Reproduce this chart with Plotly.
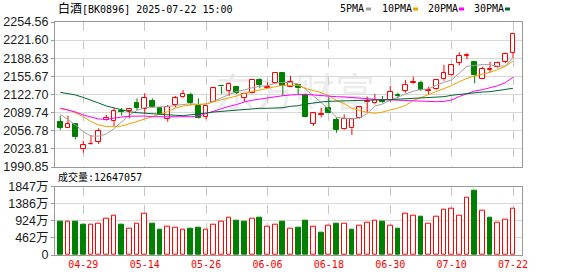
import plotly.graph_objects as go

dates = ["2025-04-24", "2025-04-25", "2025-04-28", "2025-04-29", "2025-04-30",
         "2025-05-06", "2025-05-07", "2025-05-08", "2025-05-09", "2025-05-12",
         "2025-05-13", "2025-05-14", "2025-05-15", "2025-05-16", "2025-05-19",
         "2025-05-20", "2025-05-21", "2025-05-22", "2025-05-23", "2025-05-26",
         "2025-05-27", "2025-05-28", "2025-05-29", "2025-05-30", "2025-06-03",
         "2025-06-04", "2025-06-05", "2025-06-06", "2025-06-09", "2025-06-10",
         "2025-06-11", "2025-06-12", "2025-06-13", "2025-06-16", "2025-06-17",
         "2025-06-18", "2025-06-19", "2025-06-20", "2025-06-23", "2025-06-24",
         "2025-06-25", "2025-06-26", "2025-06-27", "2025-06-30", "2025-07-01",
         "2025-07-02", "2025-07-03", "2025-07-04", "2025-07-07", "2025-07-08",
         "2025-07-09", "2025-07-10", "2025-07-11", "2025-07-14", "2025-07-15",
         "2025-07-16", "2025-07-17", "2025-07-18", "2025-07-21", "2025-07-22"]

opens = [2073.2, 2061.2, 2068.5, 2023.0, 2032.1, 2036.9, 2076.3, 2074.0, 2093.2, 2092.2,
         2106.7, 2096.9, 2110.9, 2097.6, 2078.7, 2103.6, 2117.6, 2121.8, 2101.8, 2082.3,
         2109.6, 2138.7, 2129.6, 2136.9, 2115.8, 2124.9, 2149.1, 2135.1, 2143.1, 2162.4,
         2136.9, 2140.0, 2121.8, 2069.1, 2086.0, 2098.7, 2076.3, 2059.4, 2061.2, 2079.4,
         2108.5, 2106.7, 2112.7, 2112.7, 2121.8, 2129.1, 2143.1, 2144.2, 2129.1, 2132.2,
         2150.4, 2157.6, 2180.5, 2192.7, 2181.8, 2150.4, 2168.0, 2172.2, 2182.4, 2198.7]
highs = [2084.2, 2084.2, 2070.9, 2038.7, 2049.1, 2061.2, 2085.4, 2098.7, 2098.2, 2096.5,
         2115.8, 2124.9, 2115.8, 2099.4, 2103.6, 2120.0, 2130.9, 2126.0, 2115.8, 2103.0,
         2136.9, 2140.0, 2144.2, 2138.2, 2124.9, 2150.4, 2152.2, 2144.9, 2163.5, 2163.0,
         2156.4, 2141.0, 2122.5, 2089.5, 2098.7, 2117.6, 2080.5, 2086.7, 2078.5, 2100.5,
         2118.7, 2123.6, 2120.0, 2138.2, 2126.0, 2149.1, 2155.1, 2147.8, 2136.9, 2150.4,
         2176.4, 2177.0, 2199.5, 2197.6, 2182.5, 2173.3, 2182.4, 2182.4, 2198.7, 2235.1]
lows = [2058.1, 2061.2, 2041.2, 2016.9, 2030.9, 2032.7, 2075.1, 2065.4, 2084.2, 2079.4,
        2094.5, 2088.5, 2099.1, 2085.4, 2073.2, 2099.4, 2116.0, 2103.6, 2079.1, 2077.6,
        2109.0, 2123.6, 2120.0, 2123.6, 2109.6, 2124.0, 2134.0, 2134.0, 2141.5, 2120.0,
        2136.0, 2123.6, 2081.0, 2065.4, 2081.2, 2088.5, 2053.2, 2058.0, 2049.1, 2078.5,
        2089.6, 2104.9, 2106.7, 2109.6, 2115.8, 2126.0, 2141.8, 2129.1, 2123.6, 2130.9,
        2147.8, 2156.4, 2175.8, 2186.7, 2143.1, 2150.0, 2162.4, 2170.4, 2179.5, 2188.5]
closes = [2062.3, 2068.5, 2044.9, 2030.3, 2033.2, 2056.9, 2080.0, 2092.2, 2090.9, 2095.8,
          2098.2, 2115.8, 2100.5, 2087.2, 2100.5, 2115.8, 2123.6, 2106.7, 2080.5, 2101.8,
          2134.0, 2137.3, 2141.3, 2126.0, 2123.6, 2149.1, 2140.0, 2136.9, 2162.4, 2138.2,
          2146.0, 2134.0, 2082.3, 2088.5, 2086.7, 2089.6, 2058.1, 2078.1, 2077.6, 2099.4,
          2110.9, 2112.7, 2108.5, 2127.8, 2120.0, 2140.0, 2146.0, 2130.9, 2131.3, 2149.1,
          2161.3, 2176.4, 2192.7, 2195.1, 2157.6, 2169.6, 2169.1, 2179.5, 2196.4, 2232.7]

ma5 = [2086.7, 2077.6, 2067.2, 2055.1, 2047.2, 2047.0, 2050.9, 2060.9, 2073.6, 2084.9,
       2093.6, 2099.0, 2099.6, 2099.4, 2100.5, 2103.0, 2105.2, 2106.0, 2104.5, 2105.4,
       2110.8, 2117.3, 2122.5, 2128.5, 2131.0, 2135.0, 2137.7, 2138.5, 2143.0, 2144.7,
       2144.5, 2141.7, 2132.2, 2119.8, 2107.0, 2096.0, 2081.1, 2079.5, 2078.4, 2080.0,
       2088.1, 2101.8, 2105.4, 2112.3, 2117.3, 2123.6, 2128.8, 2131.8, 2132.9, 2139.7,
       2144.9, 2149.2, 2161.8, 2174.2, 2175.4, 2177.3, 2176.7, 2174.3, 2174.4, 2189.9]
ma10 = [2097.6, 2095.1, 2089.1, 2082.3, 2073.6, 2067.2, 2064.5, 2064.1, 2065.4, 2069.1,
        2073.6, 2078.1, 2082.3, 2087.2, 2091.4, 2098.2, 2101.8, 2103.6, 2104.9, 2105.4,
        2109.6, 2112.7, 2115.8, 2120.0, 2124.9, 2128.2, 2131.4, 2134.0, 2136.9, 2139.4,
        2140.0, 2139.4, 2133.6, 2129.8, 2126.2, 2120.2, 2112.0, 2106.1, 2097.6, 2093.8,
        2090.3, 2088.6, 2090.7, 2094.7, 2098.0, 2103.1, 2111.8, 2117.1, 2122.5, 2127.4,
        2132.5, 2138.9, 2146.0, 2152.0, 2156.5, 2159.5, 2163.1, 2168.0, 2174.0, 2183.5]
ma20 = [2097.6, 2094.5, 2090.9, 2085.4, 2081.8, 2078.1, 2077.6, 2080.0, 2081.8, 2083.1,
        2083.6, 2083.6, 2082.3, 2082.3, 2081.2, 2081.8, 2082.3, 2082.3, 2083.6, 2088.1,
        2092.7, 2097.2, 2101.2, 2104.5, 2109.1, 2112.2, 2114.5, 2116.3, 2118.7, 2120.5,
        2121.8, 2122.3, 2123.1, 2121.8, 2120.5, 2120.0, 2118.7, 2118.2, 2117.6, 2116.3,
        2115.1, 2114.0, 2113.3, 2112.7, 2112.2, 2112.2, 2111.4, 2110.9, 2110.0, 2109.6,
        2110.3, 2112.7, 2119.1, 2124.5, 2129.1, 2131.4, 2134.5, 2138.7, 2144.2, 2154.0]
ma30 = [2126.7, 2124.5, 2121.8, 2117.3, 2112.7, 2107.2, 2101.8, 2098.2, 2094.5, 2091.4,
        2089.6, 2088.5, 2087.2, 2086.3, 2085.4, 2084.9, 2084.2, 2085.4, 2087.2, 2089.1,
        2090.9, 2092.2, 2092.7, 2094.0, 2095.1, 2096.3, 2097.6, 2097.6, 2098.2, 2098.7,
        2101.2, 2102.3, 2105.4, 2107.8, 2109.1, 2110.3, 2110.9, 2111.4, 2111.4, 2112.2,
        2112.2, 2112.7, 2112.7, 2113.3, 2114.0, 2114.5, 2115.1, 2115.8, 2117.3, 2118.2,
        2118.7, 2121.3, 2123.1, 2124.9, 2126.0, 2127.2, 2127.8, 2130.0, 2131.4, 2134.0]

volumes = [9060000, 8880000, 8970000, 8170000, 8080000, 8430000, 9690000, 10590000, 8170000, 7000000,
           8430000, 11130000, 8520000, 6820000, 7540000, 7270000, 6820000, 7090000, 7360000, 6820000,
           8170000, 8970000, 9960000, 9240000, 8970000, 9780000, 10050000, 7540000, 8170000, 8970000,
           7090000, 7360000, 9240000, 7540000, 6100000, 7900000, 8430000, 8430000, 6820000, 7900000,
           8610000, 9150000, 8970000, 7900000, 7090000, 11130000, 10590000, 10320000, 8430000, 10320000,
           12380000, 12650000, 10590000, 15610000, 17320000, 11930000, 10050000, 8700000, 9510000, 12647057]
# 1 = volume up (red, hollow), 0 = volume down (green)
vol_up = [0, 1, 0, 0, 1, 1, 1, 1, 0, 1,
          1, 1, 0, 0, 1, 1, 1, 0, 0, 1,
          1, 1, 1, 0, 0, 1, 0, 1, 1, 0,
          1, 0, 0, 1, 0, 1, 0, 1, 0, 1,
          1, 1, 0, 1, 0, 1, 1, 0, 1, 1,
          1, 1, 1, 1, 0, 1, 0, 1, 1, 1]

price_ticks = [1990.85, 2023.81, 2056.78, 2089.74, 2122.70, 2155.67, 2188.63, 2221.60, 2254.56]
vol_ticks = [0, 4620000, 9240000, 13860000, 18470000]
vol_tick_text = ["0", "462万", "924万", "1386万", "1847万"]
label_dates = ["2025-04-29", "2025-05-14", "2025-05-26", "2025-06-06",
               "2025-06-18", "2025-06-30", "2025-07-10", "2025-07-22"]
title_name = "白酒"
title_rest = "[BK0896] 2025-07-22 15:00"
vol_title = "成交量:12647057"
ma_names = ["5PMA", "10PMA", "20PMA", "30PMA"]

# ---- styling / geometry ----
W, H = 578, 276
L, R, T, B = 55, 522, 22, 255
RED, GREEN = "#ff0000", "#008000"
MA_COLORS = ["#a0a0a0", "#f0a000", "#ff00ff", "#006633"]
MONO = "DejaVu Sans Mono, Noto Sans CJK SC"
SANS = "Liberation Sans, Arial, Noto Sans CJK SC"


def px(x):
    return (x - L) / (R - L)


def py(y):
    return (B - y) / (B - T)


# trading-day slots on the x axis
xi = list(range(len(dates)))
tick_pos = [dates.index(d) for d in label_dates]

fig = go.Figure()

# wicks (upper and lower parts, so hollow bodies stay clean)
for up_flag, col in [(True, RED), (False, GREEN)]:
    xs, ys = [], []
    for k, o, h, l, c in zip(xi, opens, highs, lows, closes):
        if (c >= o) != up_flag:
            continue
        top, bot = max(o, c), min(o, c)
        xs += [k, k, None, k, k, None]
        ys += [top, h, None, bot, l, None]
    fig.add_trace(go.Scatter(x=xs, y=ys, mode="lines", line=dict(color=col, width=1),
                             hoverinfo="skip", showlegend=False, xaxis="x", yaxis="y"))

# bodies
up = [c >= o for o, c in zip(opens, closes)]
fig.add_trace(go.Bar(
    x=xi,
    base=[min(o, c) for o, c in zip(opens, closes)],
    y=[max(abs(c - o), 0.4) for o, c in zip(opens, closes)],
    width=0.62,
    marker=dict(color=["#ffffff" if u else GREEN for u in up],
                line=dict(color=[RED if u else GREEN for u in up], width=1)),
    hoverinfo="skip", showlegend=False, xaxis="x", yaxis="y"))

# moving averages
for vals, col in zip([ma5, ma10, ma20, ma30], MA_COLORS):
    fig.add_trace(go.Scatter(x=xi, y=vals, mode="lines", line=dict(color=col, width=1),
                             hoverinfo="skip", showlegend=False, xaxis="x", yaxis="y"))

# volume
fig.add_trace(go.Bar(
    x=xi, y=volumes, width=0.62,
    marker=dict(color=["#ffffff" if u else GREEN for u in vol_up],
                line=dict(color=[RED if u else GREEN for u in vol_up], width=1)),
    hoverinfo="skip", showlegend=False, xaxis="x2", yaxis="y2"))

xr = [-0.69, 60.17]
common_x = dict(type="linear", range=xr, tickmode="array", tickvals=tick_pos, tickangle=0,
                ticktext=[f"<span style='color:{RED}'>{d[5:]}</span>" for d in label_dates],
                automargin=False,
                tickfont=dict(family=MONO, size=10, color=RED),
                showgrid=True, gridcolor="#c8c8c8", griddash="dash", gridwidth=1,
                showline=True, mirror=True, linecolor="#999999", linewidth=1,
                ticks="", zeroline=False, fixedrange=True)
common_y = dict(showgrid=True, gridcolor="#d8d8d8", gridwidth=1, automargin=False,
                showline=True, mirror=True, linecolor="#999999", linewidth=1,
                ticks="outside", ticklen=3, tickcolor="#999999", zeroline=False,
                tickfont=dict(family=SANS, size=12.5, color="#1a1a1a"))

fig.update_layout(
    width=W, height=H,
    margin=dict(l=L, r=W - R, t=T, b=H - B, autoexpand=False),
    paper_bgcolor="#ffffff", plot_bgcolor="#ffffff",
    showlegend=False, bargap=0,
    xaxis=dict(**common_x, anchor="y", showticklabels=False),
    xaxis2=dict(**common_x, anchor="y2", showticklabels=True),
    yaxis=dict(**common_y, domain=[py(167), 1], range=[price_ticks[0], price_ticks[-1]],
               tickvals=price_ticks, ticktext=[f"{v:.2f}" for v in price_ticks]),
    yaxis2=dict(**common_y, domain=[0, py(186.7)], range=[vol_ticks[0], vol_ticks[-1]],
                tickvals=vol_ticks, ticktext=vol_tick_text),
)

annotations = [
    dict(text=f"<span style='font-size:12px'>{title_name}</span>{title_rest}",
         x=px(56), y=py(8.5), xref="paper", yref="paper", xanchor="left", yanchor="middle",
         showarrow=False, font=dict(family=MONO, size=10, color="#000000")),
    dict(text=vol_title, x=px(56), y=py(177), xref="paper", yref="paper",
         xanchor="left", yanchor="middle", showarrow=False,
         font=dict(family=MONO, size=10, color="#000000")),
]
legend_x = [338, 380, 425.5, 471.5]
swatch_x = [366, 413, 459, 505]
shapes = []
for name, lx, sx, col in zip(ma_names, legend_x, swatch_x, MA_COLORS):
    annotations.append(dict(text=name, x=px(lx), y=py(8.7), xref="paper", yref="paper",
                            xanchor="left", yanchor="middle", showarrow=False,
                            font=dict(family=MONO, size=10, color="#000000")))
    shapes.append(dict(type="rect", xref="paper", yref="paper",
                       x0=px(sx), x1=px(sx + 5), y0=py(10.5), y1=py(7.5),
                       fillcolor=col, line=dict(width=0)))

# faint watermark behind the price chart
shapes.append(dict(type="rect", xref="paper", yref="paper", layer="below",
                   x0=px(205), x1=px(385), y0=py(118), y1=py(74),
                   fillcolor="rgba(0,0,0,0)", line=dict(width=0),
                   label=dict(text="东方财富", textposition="middle center",
                              font=dict(family="Noto Sans CJK SC", size=40, color="#ececec"))))

fig.update_layout(annotations=annotations, shapes=shapes)
fig.write_html("out.html")
